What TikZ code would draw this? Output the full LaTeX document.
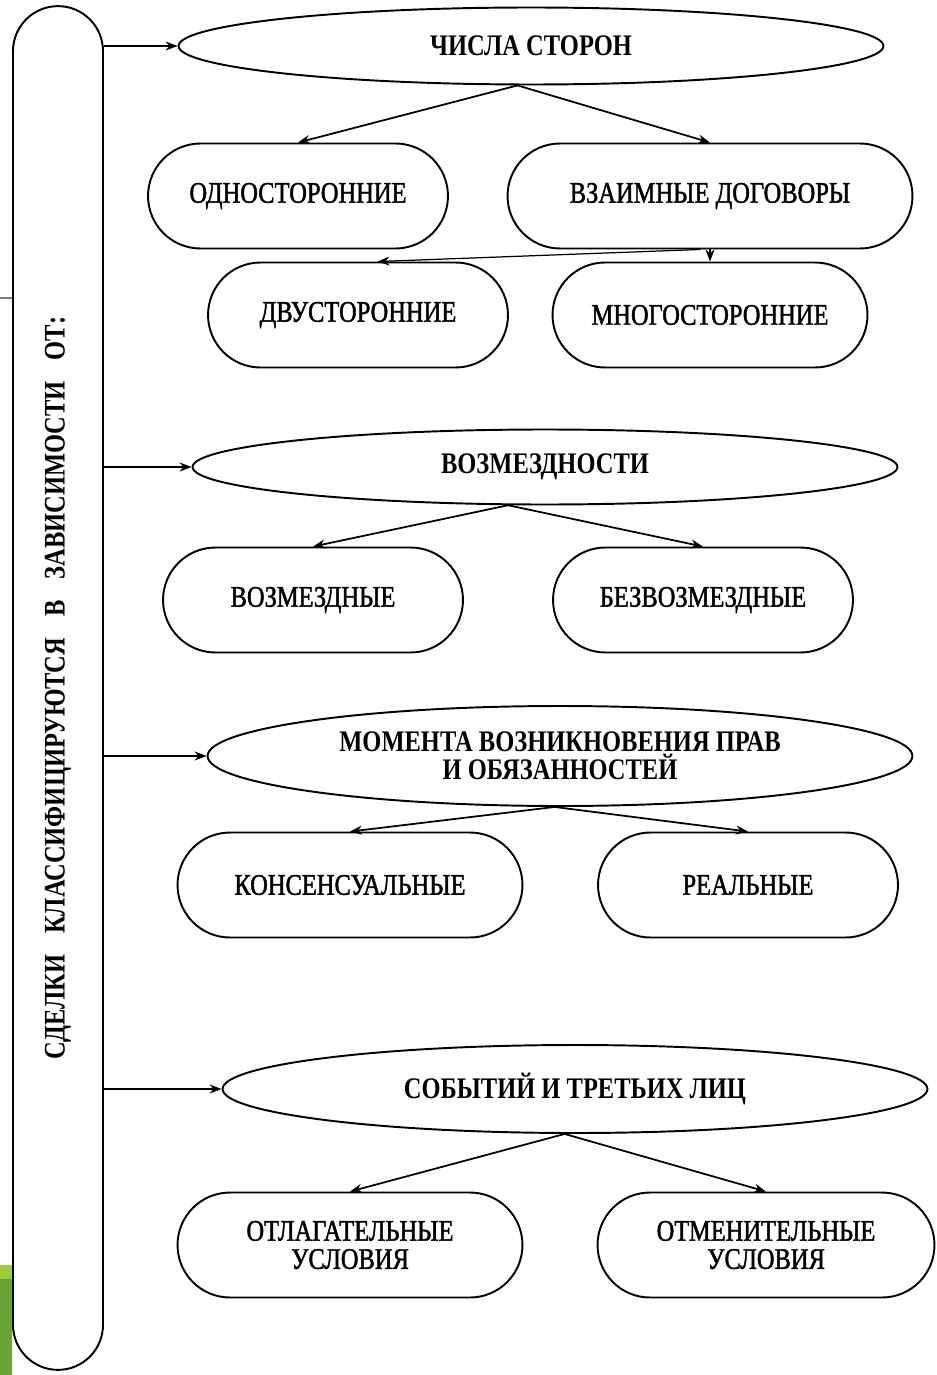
\documentclass[tikz,border=0pt]{standalone}
\usepackage{fontspec}
\setmainfont{Liberation Serif}
\newfontfamily\schemefont[FakeStretch=0.82]{Liberation Serif}
\newfontfamily\leaffont[FakeStretch=0.82,FakeBold=1.5]{Liberation Serif}
\usepackage{tikz}
\usetikzlibrary{arrows.meta}
\usetikzlibrary{shapes.geometric,shapes.misc}
\definecolor{slidegreen}{RGB}{104,166,52}
\definecolor{slidelime}{RGB}{155,204,58}
\tikzset{
 oval/.style={draw, ellipse, line width=1.1pt, minimum width=14.1cm, inner sep=0pt,
   align=center, font=\schemefont\bfseries\fontsize{17}{16}\selectfont},
 pill/.style={draw, rounded rectangle, line width=1.1pt, minimum height=2.1cm, inner sep=0pt,
   align=center, font=\leaffont\fontsize{17}{16}\selectfont},
 link/.style={->, >={Stealth[length=2.4mm,width=1.8mm]}, line width=1pt},
}

\begin{document}
\begin{tikzpicture}[x=0.02cm, y=-0.02cm]
\useasboundingbox (0,0) rectangle (936,1375);
% leftovers of the slide
\fill[slidegreen] (0,1279) rectangle (12,1375);
\fill[slidelime] (0,1265) rectangle (12,1279);
\draw[gray, line width=0.6pt] (0,298) -- (13,298);

\node[pill, rotate=90, minimum width=27.28cm, minimum height=1.8cm,
  font=\schemefont\bfseries\fontsize{17}{16}\selectfont] (bar) at (58,688)
  {СДЕЛКИ\hspace{0.42cm}КЛАССИФИЦИРУЮТСЯ\hspace{0.42cm}В\hspace{0.42cm}ЗАВИСИМОСТИ\hspace{0.42cm}ОТ:};

% first group
\node[oval, minimum height=1.54cm] (e1) at (531,46) {ЧИСЛА СТОРОН};
\node[pill, minimum width=6cm] (n1) at (298,196) {ОДНОСТОРОННИЕ};
\node[pill, minimum width=8.1cm] (n2) at (710,196) {ВЗАИМНЫЕ ДОГОВОРЫ};
\node[pill, minimum width=6cm] (n3) at (358,315) {ДВУСТОРОННИЕ};
\node[pill, minimum width=6.3cm] (n4) at (710,315) {МНОГОСТОРОННИЕ};

% second group
\node[oval, minimum height=1.5cm] (e2) at (545,467) {ВОЗМЕЗДНОСТИ};
\node[pill, minimum width=6cm] (n5) at (313,600) {ВОЗМЕЗДНЫЕ};
\node[pill, minimum width=6cm] (n6) at (703,600) {БЕЗВОЗМЕЗДНЫЕ};

% third group
\node[oval, minimum height=2cm] (e3) at (560,756) {МОМЕНТА ВОЗНИКНОВЕНИЯ ПРАВ\\И ОБЯЗАННОСТЕЙ};
\node[pill, minimum width=6.9cm] (n7) at (350,885) {КОНСЕНСУАЛЬНЫЕ};
\node[pill, minimum width=6cm] (n8) at (748,885) {РЕАЛЬНЫЕ};

% fourth group
\node[oval, minimum height=1.76cm] (e4) at (575,1089) {СОБЫТИЙ И ТРЕТЬИХ ЛИЦ};
\node[pill, minimum width=6.9cm] (n9) at (350,1245) {ОТЛАГАТЕЛЬНЫЕ\\УСЛОВИЯ};
\node[pill, minimum width=6.74cm] (n10) at (766,1245) {ОТМЕНИТЕЛЬНЫЕ\\УСЛОВИЯ};

\foreach \e in {e1,e2,e3,e4}
 \draw[link] (\e.west -| bar.south) -- (\e.west);

\draw[link] (e1.251) -- (n1.north);
\draw[link] (e1.251) -- (n2.north);
\draw[link, line width=0.7pt] (n2.260) -- (n3.70);
\draw[link] (n2.south) -- (n4.north);
\draw[link] (e2.226) -- (n5.north);
\draw[link] (e2.226) -- (n6.north);
\draw[link] (e3.264) -- (n7.north);
\draw[link] (e3.264) -- (n8.north);
\draw[link] (e4.257) -- (n9.north);
\draw[link] (e4.257) -- (n10.north);
\end{tikzpicture}
\end{document}
